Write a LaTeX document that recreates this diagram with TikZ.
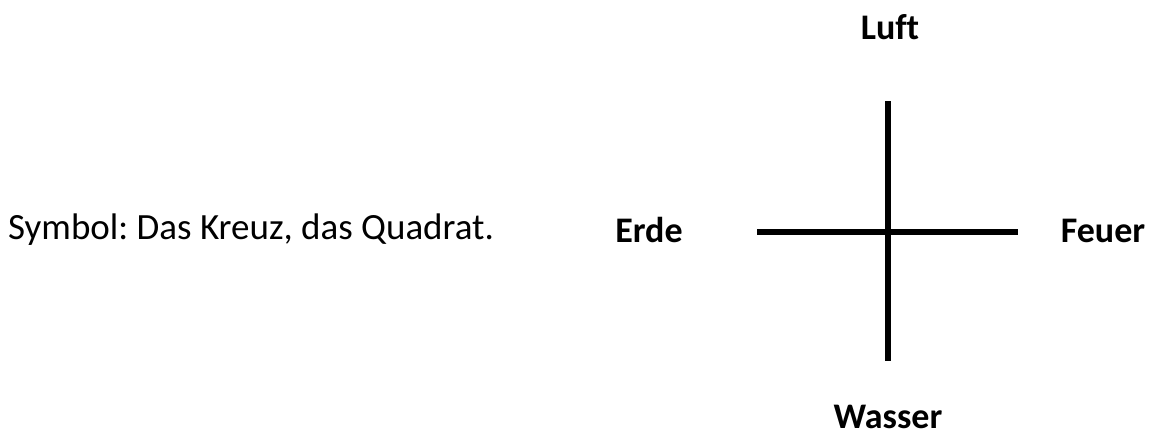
\documentclass[tikz,border=0pt]{standalone}
\usepackage{fontspec}
\setmainfont{Carlito}[Ligatures=NoCommon]
\frenchspacing
\begin{document}
\begin{tikzpicture}[x=1pt,y=-1pt,
  lbl/.style={font=\fontsize{36}{40}\selectfont\bfseries,inner sep=0pt},
  txt/.style={font=\fontsize{37}{42}\selectfont,inner sep=0pt},
  bar/.style={line width=6.5pt}]
\useasboundingbox (0,0) rectangle (1155,439);
\node[txt,anchor=base west] (sym) at (8,239) {Symbol: Das Kreuz, das Quadrat.};
\node[lbl,anchor=base] (luft) at (890,39) {Luft};
\node[lbl,anchor=base] (wasser) at (888,428) {Wasser};
\node[lbl,anchor=base] (erde) at (649,242) {Erde};
\node[lbl,anchor=base] (feuer) at (1103,242) {Feuer};
\coordinate (top) at (888,101);
\coordinate (bot) at (888,361);
\coordinate (left) at (757,232);
\coordinate (right) at (1018,232);
\draw[bar] (top) -- (bot);
\draw[bar] (left) -- (right);
\end{tikzpicture}
\end{document}
